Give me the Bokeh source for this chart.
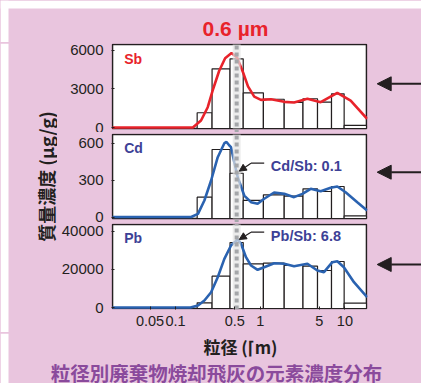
import math
from bokeh.plotting import figure
from bokeh.layouts import column, row
from bokeh.models import (Range1d, FixedTicker, CustomJSTickFormatter, Arrow, NormalHead)
from bokeh.core.properties import value
from bokeh.embed import file_html
from bokeh.resources import INLINE

# ---------------- data ----------------
bin_edges = [0.18, 0.27, 0.44, 0.63, 1.09, 1.92, 3.2, 4.75, 6.95, 9.8, 18.0]

sb_bars = [1150, 4570, 5350, 2700, 2200, 1950, 2240, 1970, 2620, 160]
cd_bars = [162, 551, 357, 135, 181, 170, 230, 208, 249, 10]
pb_bars = [2470, 16460, 34200, 22990, 23300, 22090, 21720, 19460, 24200, 2260]

sb_curve_x = [0.018, 0.16, 0.20, 0.24, 0.278, 0.327, 0.385, 0.458, 0.532, 0.626, 0.717,
              0.85, 1.02, 1.34, 1.92, 2.51, 3.61, 5.18, 8.14, 11.7, 18.3]
sb_curve_y = [0, 0, 545, 1580, 3000, 4400, 5400, 5800, 5450, 4300, 3200,
              2400, 2150, 2205, 2000, 1948, 2236, 1971, 2703, 2100, 678]

cd_curve_x = [0.018, 0.153, 0.184, 0.219, 0.263, 0.315, 0.377, 0.40, 0.432, 0.452, 0.494,
              0.542, 0.648, 0.778, 0.932, 1.114, 1.46, 1.92, 2.51, 3.15, 3.95, 5.18,
              6.79, 8.14, 10.2, 14.0, 18.3]
cd_curve_y = [0, 0, 26, 135, 298, 488, 602, 612, 583, 570, 447,
              325, 175, 121, 108, 149, 200, 189, 162, 189, 230, 211,
              238, 249, 202, 121, 53]

pb_curve_x = [0.018, 0.15, 0.184, 0.219, 0.263, 0.315, 0.377, 0.452, 0.542, 0.593, 0.679,
              0.778, 0.932, 1.114, 1.46, 1.92, 2.51, 3.61, 4.73, 5.66, 7.11, 8.14,
              9.73, 12.8, 18.3]
pb_curve_y = [0, 0, 1050, 3680, 8050, 15940, 25600, 32600, 35800, 33500, 26460,
              22090, 19830, 21200, 23300, 22990, 21720, 22990, 19460, 18570, 23830, 24350,
              21200, 13310, 5420]

x_ticks = [0.05, 0.1, 0.5, 1, 5, 10]
sb_ticks = [0, 3000, 6000]
cd_ticks = [0, 300, 600]
pb_ticks = [0, 20000, 40000]

peak_diameter = 0.527          # the dotted marker ("0.6 µm")
peak_text = "0.6 µm"
cd_ratio_text = "Cd/Sb: 0.1"
pb_ratio_text = "Pb/Sb: 6.8"
y_title = "質量濃度 (μg/g)"
x_title = "粒径 (⌈m)"
caption = "粒径別廃棄物焼却飛灰の元素濃度分布"

# ---------------- style ----------------
PINK = "#E9C5DE"
INK = "#231F20"
RED = "#E8232B"
BLUE = "#2A62B0"
INDIGO = "#3D4196"
PURPLE = "#8A4A9C"
GREY = "#A4A6A9"
FONT = "Liberation Sans"
CJK = "Noto Sans CJK JP"
BG = {"background-color": PINK}
FIG_STYLE = {"background-color": PINK, "box-shadow": "0 0 0 1px " + PINK}

# x range of the panels (0.018 .. 18), padded by one pixel on each side
x_lo, x_hi = 0.018, 18.0
pad = (x_hi / x_lo) ** (1 / 255)
x_range = Range1d(x_lo / pad, x_hi * pad)


def strip(width, height, xr, yr):
    p = figure(width=width, height=height, x_range=Range1d(*xr), y_range=Range1d(*yr),
               output_backend="svg", toolbar_location=None, min_border=0,
               styles=FIG_STYLE)
    p.background_fill_color = PINK
    p.border_fill_color = PINK
    p.outline_line_color = None
    p.axis.visible = False
    p.grid.visible = False
    return p


def make_panel(height, bottom, frame_yr, box_yr, ticks):
    p = figure(width=312, height=height, x_axis_type="log", x_range=x_range,
               y_range=Range1d(*frame_yr), output_backend="svg", toolbar_location=None,
               min_border_left=52, min_border_right=3,
               min_border_top=0, min_border_bottom=bottom, styles=FIG_STYLE)
    p.background_fill_color = PINK
    p.border_fill_color = PINK
    p.outline_line_color = None
    p.grid.visible = False
    p.yaxis.ticker = FixedTicker(ticks=ticks)
    p.yaxis.major_tick_in = 3
    p.yaxis.major_tick_out = 0
    p.yaxis.minor_tick_line_color = None
    p.yaxis.axis_line_color = None
    p.yaxis.major_tick_line_color = INK
    p.yaxis.major_label_standoff = 8
    p.yaxis.major_label_text_font = FONT
    p.yaxis.major_label_text_font_size = "15px"
    p.yaxis.major_label_text_color = INK
    # white panel box
    p.quad(left=[x_lo], right=[x_hi], bottom=[box_yr[0]], top=[box_yr[1]],
           fill_color="white", line_color=INK, line_width=1.6)
    return p


def fill(p, bars, cx, cy, color, frame_yr, box_yr):
    p.quad(left=bin_edges[:-1], right=bin_edges[1:], bottom=box_yr[0], top=bars,
           fill_color="white", line_color=INK, line_width=1.2)
    p.line(cx, cy, line_color=color, line_width=2.6)
    p.line([peak_diameter, peak_diameter], [box_yr[0], box_yr[1]], line_color="#E4E4E4",
           line_width=8, line_alpha=0.7)
    p.line([peak_diameter, peak_diameter], [frame_yr[0], frame_yr[1]], line_color=GREY,
           line_width=4, line_dash="4 3")


def element_label(p, text, y, color):
    p.text(x=[0.0247], y=[y], text=[text], text_font=value(FONT), text_font_style="bold",
           text_font_size="14px", text_color=color, text_baseline="middle")


def ratio_note(p, text, y_text, y_line, y_tip):
    p.line([1.114, 0.778], [y_line, y_line], line_color=INK, line_width=1.2)
    p.add_layout(Arrow(x_start=0.778, y_start=y_line, x_end=0.566, y_end=y_tip,
                       line_color=INK, line_width=1.2,
                       end=NormalHead(size=7, fill_color=INK, line_color=INK)))
    p.text(x=[1.336], y=[y_text], text=[text], text_font=value(FONT),
           text_font_style="bold", text_font_size="14.5px",
           text_color=INDIGO, text_baseline="middle")


# ---- Sb ----
sb_frame, sb_box = (-467, 6544), (-78, 6466)
p1 = make_panel(90, 0, sb_frame, sb_box, sb_ticks)
p1.xaxis.visible = False
fill(p1, sb_bars, sb_curve_x, sb_curve_y, RED, sb_frame, sb_box)
element_label(p1, "Sb", 5350, RED)

# ---- Cd ----
cd_frame, cd_box = (-53, 681.4), (-12.2, 673)
p2 = make_panel(90, 0, cd_frame, cd_box, cd_ticks)
p2.xaxis.visible = False
fill(p2, cd_bars, cd_curve_x, cd_curve_y, BLUE, cd_frame, cd_box)
element_label(p2, "Cd", 565, INDIGO)
ratio_note(p2, cd_ratio_text, 420, 439, 374)

# ---- Pb ----
pb_frame, pb_box = (-1052, 44184), (-526, 43660)
p3 = make_panel(110, 24, pb_frame, pb_box, pb_ticks)
fill(p3, pb_bars, pb_curve_x, pb_curve_y, BLUE, pb_frame, pb_box)
element_label(p3, "Pb", 36660, INDIGO)
ratio_note(p3, pb_ratio_text, 37870, 39600, 35770)
p3.xaxis.ticker = FixedTicker(ticks=x_ticks)
p3.xaxis.formatter = CustomJSTickFormatter(code="return tick.toString()")
p3.xaxis.major_tick_in = 3
p3.xaxis.major_tick_out = 0
p3.xaxis.minor_tick_line_color = None
p3.xaxis.axis_line_color = None
p3.xaxis.major_tick_line_color = INK
p3.xaxis.major_label_standoff = 6
p3.xaxis.major_label_text_font = FONT
p3.xaxis.major_label_text_font_size = "14.5px"
p3.xaxis.major_label_text_color = INK

# ---- surrounding strips (page-pixel coordinates, y downwards) ----
top = strip(421, 43, (0, 421), (43, 0))
top.quad(left=[0, 0], right=[421, 8], bottom=[8, 43], top=[0, 0], fill_color="white",
         line_color=None)
top.text(x=[235], y=[27.5], text=[peak_text], text_font=value(FONT), text_font_style="bold",
         text_font_size="21px", text_color=RED, text_align="center", text_baseline="middle")

left = strip(58, 290, (0, 58), (333, 43))
left.quad(left=[0], right=[8], bottom=[333], top=[43], fill_color="white", line_color=None)
left.text(x=[45], y=[176], text=[y_title], angle=math.pi / 2, text_font=value(CJK),
          text_font_style="bold", text_font_size="18px", text_color=INK,
          text_align="center", text_baseline="middle")

right = strip(51, 290, (370, 421), (333, 43))
for y in (83.3, 171.7, 264):
    right.add_layout(Arrow(x_start=421, y_start=y, x_end=376.7, y_end=y, line_color=INK,
                           line_width=2,
                           end=NormalHead(size=14, fill_color=INK, line_color=INK)))

bottom = strip(421, 50, (0, 421), (383, 333))
bottom.quad(left=[0], right=[8], bottom=[383], top=[333], fill_color="white", line_color=None)
bottom.text(x=[240], y=[345.5], text=[x_title], text_font=value(CJK), text_font_style="bold",
            text_font_size="17px", text_color=INK, text_align="center",
            text_baseline="middle")
bottom.text(x=[216], y=[372], text=[caption], text_font=value(CJK), text_font_style="bold",
            text_font_size="19.5px", text_color=PURPLE, text_align="center",
            text_baseline="middle")

panels = column(p1, p2, p3, spacing=0, styles=BG)
middle = row(left, panels, right, spacing=0, styles=BG)
layout = column(top, middle, bottom, spacing=0, styles=BG)
open("out.html", "w").write(file_html(layout, INLINE))
